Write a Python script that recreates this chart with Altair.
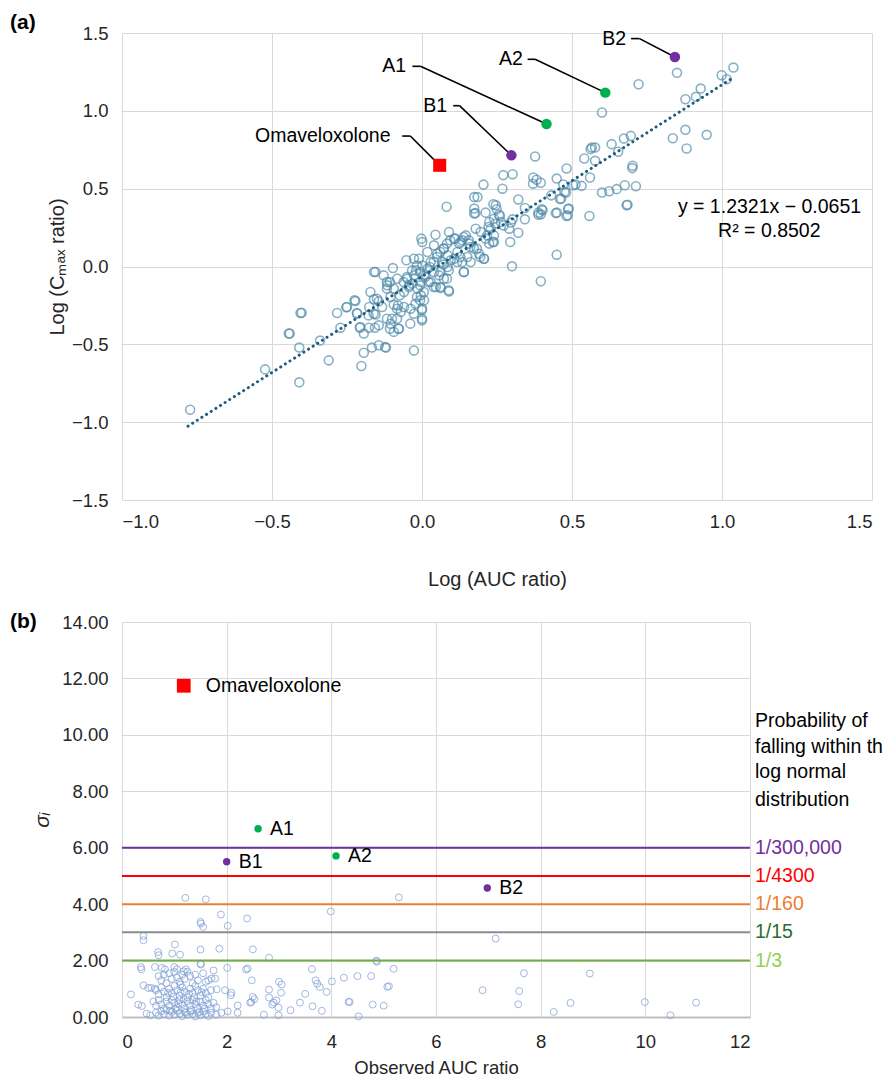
import altair as alt
import pandas as pd

FONT = "Liberation Sans"
TXT = "#262626"

# ---------------- panel (a) data ----------------
a_x = [-0.773, -0.523, -0.409, -0.409, -0.311, -0.441, -0.444, -0.401, -0.405, -0.34, -0.283, -0.252, -0.222,
       -0.216, -0.272, -0.207, -0.194, -0.177, -0.157, -0.202, -0.194, -0.167, -0.144, -0.12, -0.123, -0.027,
       -0.176, -0.16, -0.155, -0.144, -0.16, -0.155, -0.097, -0.052, -0.116, -0.107, -0.094, -0.105, -0.1,
       -0.107, -0.094, -0.077, -0.083, -0.071, -0.06, -0.08, -0.049, -0.043, -0.06, -0.027, -0.032, -0.038,
       0.0, 0.0, 0.007, -0.004, -0.015, -0.004, 0.007, 0.018, 0.001, -0.01, -0.002, 0.001, 0.018, 0.029, 0.04,
       0.029, 0.046, 0.062, 0.09, 0.073, 0.057, 0.085, 0.068, 0.051, 0.045, 0.04, 0.073, 0.085, 0.096, 0.09,
       0.107, 0.124, 0.118, 0.107, 0.14, 0.134, 0.151, 0.162, 0.146, 0.134, 0.157, 0.173, 0.19, 0.207, 0.179,
       0.196, 0.212, 0.229, 0.24, 0.224, 0.24, 0.174, 0.185, 0.174, 0.174, 0.178, 0.205, 0.268, 0.212, 0.246,
       0.257, 0.24, 0.224, 0.263, 0.296, 0.321, 0.343, 0.343, 0.302, 0.291, 0.321, 0.294, 0.3, 0.396, 0.388,
       0.402, 0.396, 0.449, 0.45, 0.486, 0.489, 0.464, 0.475, 0.431, 0.37, 0.396, 0.512, 0.082, -0.027, -0.02,
       -0.105, -0.133, -0.027,
       -0.25, -0.225, -0.217, -0.206, -0.161, -0.15, -0.117, -0.117, -0.094, -0.083, -0.074, -0.061, -0.05,
       -0.033, -0.017, -0.006, 0.011, 0.022, 0.026, 0.039, 0.05, 0.061, 0.072, 0.083, 0.094, 0.111, 0.128,
       0.139, 0.156, 0.161, 0.183, 0.194, 0.206, 0.217, 0.236, 0.222, 0.244, 0.272, 0.072, 0.089, 0.061, 0.083,
       0.061, 0.089, 0.139, 0.117, 0.128, 0.039, -0.006, 0.006, -0.017, -0.006, 0.0, 0.0, -0.022, -0.044,
       -0.083, -0.128, -0.172, -0.178, -0.144, -0.117, -0.078, -0.039,
       1.038, 0.999, 1.016, 0.929, 0.913, 0.878, 0.85, 0.722, 0.6, 0.878, 0.836, 0.882, 0.949, 0.696, 0.673,
       0.632, 0.654, 0.566, 0.577, 0.562, 0.577, 0.541, 0.702, 0.701, 0.56, 0.482, 0.449, 0.471, 0.504, 0.532,
       0.6, 0.624, 0.649, 0.676, 0.713, 0.682, 0.685, 0.558, 0.48, 0.46, 0.487, 0.482, 0.446, 0.399, 0.388,
       0.377, 0.371, 0.382, 0.302, 0.271, 0.238, 0.249, 0.26]
a_y = [-0.92, -0.661, -0.744, -0.521, -0.603, -0.431, -0.43, -0.297, -0.299, -0.476, -0.299, -0.262, -0.222,
       -0.303, -0.393, -0.393, -0.431, -0.393, -0.393, -0.639, -0.554, -0.521, -0.506, -0.521, -0.518, -0.539,
       -0.26, -0.211, -0.309, -0.224, -0.035, -0.035, -0.01, 0.04, -0.121, -0.1, -0.142, -0.196, -0.335,
       -0.4, -0.42, -0.4, -0.335, -0.292, -0.26, -0.25, -0.078, -0.121, -0.164, -0.057, -0.11, -0.271,
       -0.346, -0.28, -0.217, -0.185, -0.142, -0.1, -0.057, -0.014, 0.007, 0.05, 0.179, 0.157, 0.093, 0.029,
       -0.035, -0.1, -0.132, -0.138, -0.16, -0.078, -0.057, -0.003, 0.029, 0.082, 0.204, 0.136, 0.115, 0.072,
       0.04, 0.222, 0.179, 0.147, 0.093, 0.05, -0.035, 0.029, 0.061, 0.029, 0.2, 0.168, 0.147, 0.115, 0.082,
       0.05, 0.243, 0.222, 0.179, 0.243, 0.2, 0.147, 0.157, 0.446, 0.446, 0.372, 0.34, 0.343, 0.526, 0.5,
       0.346, 0.393, 0.333, 0.307, 0.286, 0.286, 0.282, 0.431, 0.376, 0.303, 0.303, 0.243, 0.217, 0.157,
       0.001, 0.335, 0.346, 0.361, -0.095, 0.076, 0.346, 0.329, 0.372, 0.436, 0.479, 0.457, 0.532, 0.538,
       0.526, 0.384, 0.05, -0.025, -0.368, -0.26, -0.303,
       -0.26, -0.217, -0.299, -0.389, -0.303, -0.207, -0.1, -0.142, -0.245, -0.271, -0.185, -0.1, -0.067,
       -0.025, 0.007, -0.035, -0.067, -0.1, -0.003, 0.029, 0.061, 0.093, 0.115, 0.147, 0.168, 0.179, 0.157,
       0.19, 0.168, 0.125, 0.115, 0.061, 0.05, 0.2, 0.157, 0.254, 0.275, 0.264, 0.012, -0.025, -0.035, -0.078,
       -0.132, -0.153, -0.035, 0.029, 0.061, -0.132, -0.121, -0.164, -0.196, -0.217, -0.335, -0.271, -0.239,
       -0.132, -0.078, -0.057, -0.164, -0.314, -0.378, -0.335, -0.4, -0.367,
       1.278, 1.229, 1.203, 1.143, 1.09, 1.075, 1.244, 1.171, 0.989, 0.878, 0.824, 0.758, 0.846, 0.839, 0.822,
       0.786, 0.737, 0.764, 0.764, 0.754, 0.679, 0.694, 0.647, 0.632, 0.572, 0.63, 0.565, 0.527, 0.522, 0.518,
       0.475, 0.484, 0.497, 0.522, 0.516, 0.394, 0.397, 0.325, 0.475, 0.433, 0.368, 0.325, 0.343, 0.368, 0.332,
       0.707, 0.572, 0.557, 0.593, 0.587, 0.4, 0.368, 0.325]

trend_x = [-0.78, 1.03]
trend_y = [-1.026, 1.204]   # y = 1.2321x - 0.0651

sp_names = ["Omaveloxolone", "B1", "A1", "A2", "B2"]
sp_group = ["O", "B", "A", "A", "B"]
sp_x = [0.059, 0.298, 0.415, 0.611, 0.843]
sp_y = [0.650, 0.714, 0.915, 1.117, 1.346]
lab_x = [-0.105, 0.084, -0.053, 0.336, 0.680]
lab_y = [0.838, 1.033, 1.286, 1.331, 1.464]
lead_x0 = [-0.066, 0.104, -0.032, 0.352, 0.697]
lead_x1 = [-0.039, 0.125, -0.005, 0.377, 0.725]

eq_text = ["y = 1.2321x \u2212 0.0651", "R\u00b2 = 0.8502"]
eq_x = [0.853, 0.987]
eq_y = [0.382, 0.228]

# ---------------- panel (b) data ----------------
b_x = [1.21, 1.6, 1.89, 2.39, 1.5, 1.51, 1.55, 2.02, 3.99, 5.29,
       0.41, 0.41, 1.01, 0.69, 0.7, 0.96, 1.11, 1.5, 1.86, 2.5, 2.81,
       1.5, 1.51, 0.36, 0.37, 0.63, 0.76, 0.82, 1.0, 1.22, 1.75, 2.01, 2.37, 2.4, 3.63, 4.86, 4.87, 5.19,
       4.24, 4.5, 4.76, 5.07, 5.1, 4.33, 4.35, 4.79, 5.0, 4.52, 3.7, 3.73, 3.78, 4.01, 3.91, 3.5, 3.4, 3.64,
       3.82, 3.22, 3.0, 3.05, 3.04, 2.95, 2.9, 2.87, 2.81, 2.81, 2.99, 2.71, 2.99, 2.48, 2.5, 2.53, 2.47, 2.45,
       2.21, 2.21, 2.02, 2.09, 2.08, 1.97, 1.81, 1.78, 1.71, 1.65, 0.17, 0.31, 0.38, 0.41, 0.5, 0.56, 0.63,
       0.47, 0.54,
       0.7, 0.75, 0.8, 0.85, 0.9, 0.95, 1.0, 1.05, 1.1, 1.15, 1.2, 1.25, 1.3, 1.35, 1.4, 1.45, 1.55, 1.6,
       0.65, 0.7, 0.75, 0.8, 0.85, 0.9, 0.95, 1.0, 1.05, 1.1, 1.15, 1.2, 1.25, 1.3, 1.35, 1.4, 1.45, 1.5, 1.55,
       1.6, 1.65, 1.7,
       0.6, 0.65, 0.7, 0.75, 0.8, 0.85, 0.9, 0.95, 1.0, 1.05, 1.1, 1.15, 1.2, 1.25, 1.3, 1.35, 1.4, 1.45, 1.5,
       1.55, 1.6, 1.65, 1.7, 1.75, 1.8,
       0.65, 0.7, 0.75, 0.8, 0.85, 0.9, 0.95, 1.0, 1.05, 1.1, 1.15, 1.2, 1.25, 1.3, 1.35, 1.4, 1.45, 1.5, 1.55,
       1.6, 1.65, 1.7, 1.8, 1.9,
       0.98, 1.02, 1.08, 1.12, 1.18, 1.22, 1.28, 1.32, 1.38, 1.42, 1.48, 1.52, 1.58, 0.88, 0.92, 1.12, 1.05, 1.18,
       7.14, 7.68, 8.94, 6.89, 7.59, 7.57, 8.25, 8.57, 9.99, 10.48, 10.97]
b_y = [4.22, 4.17, 3.63, 3.49, 3.37, 3.31, 3.19, 3.23, 3.74, 4.24,
       2.87, 2.72, 2.57, 2.3, 2.19, 2.25, 2.21, 2.39, 2.42, 2.4, 2.1,
       1.89, 1.86, 1.77, 1.69, 1.77, 1.74, 1.69, 1.77, 1.69, 1.65, 1.74, 1.68, 1.72, 1.7, 2.0, 1.96, 1.71,
       1.39, 1.45, 1.45, 1.07, 1.09, 0.54, 0.53, 0.44, 0.4, 0.02, 1.3, 1.18, 1.06, 1.26, 0.89, 0.82, 0.51, 0.38,
       0.22, 0.24, 1.25, 1.15, 0.86, 0.59, 0.51, 0.44, 0.97, 0.69, 0.33, 0.08, 0.06, 1.3, 0.71, 0.63, 0.53, 0.51,
       0.41, 0.15, 0.2, 0.86, 0.77, 0.95, 0.98, 1.36, 1.36, 1.3, 0.8, 0.44, 0.39, 1.12, 1.03, 1.03, 1.0,
       0.12, 0.06,
       1.45, 1.3, 1.5, 1.2, 1.55, 1.35, 1.6, 1.4, 1.25, 1.5, 1.35, 1.6, 1.45, 1.2, 1.5, 1.3, 1.55, 1.25,
       0.95, 0.8, 1.05, 0.9, 0.7, 1.0, 0.85, 1.1, 0.95, 0.75, 1.05, 0.9, 0.7, 1.0, 0.85, 1.1, 0.95, 0.75, 1.0,
       0.85, 0.7, 0.95,
       0.55, 0.4, 0.6, 0.45, 0.3, 0.55, 0.4, 0.6, 0.5, 0.35, 0.6, 0.45, 0.3, 0.55, 0.4, 0.6, 0.45, 0.3, 0.55,
       0.4, 0.6, 0.45, 0.3, 0.5, 0.35,
       0.15, 0.05, 0.2, 0.1, 0.25, 0.05, 0.18, 0.08, 0.22, 0.12, 0.03, 0.18, 0.08, 0.2, 0.1, 0.02, 0.15, 0.06,
       0.2, 0.1, 0.03, 0.15, 0.08, 0.15,
       0.72, 0.28, 0.48, 0.88, 0.62, 0.15, 0.82, 0.25, 0.7, 0.55, 0.18, 0.88, 0.3, 0.85, 0.22, 1.15, 1.7, 1.62,
       2.78, 1.55, 1.54, 0.95, 0.92, 0.45, 0.18, 0.5, 0.53, 0.06, 0.51]

bsp_names = ["Omaveloxolone", "A1", "B1", "A2", "B2"]
bsp_group = ["O", "A", "B", "A", "B"]
bsp_x = [1.18, 2.6, 2.0, 4.09, 6.98]
bsp_y = [11.74, 6.67, 5.5, 5.71, 4.57]

thr_y = [6, 5, 4, 3, 2]
thr_labels = ["1/300,000", "1/4300", "1/160", "1/15", "1/3"]
thr_line_colors = ["#7030A0", "#FF0000", "#ED7D31", "#8C8C8C", "#70AD47"]
thr_text_colors = ["#7030A0", "#FF0000", "#ED7D31", "#2E6B2E", "#92D050"]

prob_lines = ["Probability of", "falling within the", "log normal", "distribution"]
prob_y = [10.49, 9.57, 8.68, 7.69]

grp_domain = ["A", "B", "O"]
grp_colors = ["#00B050", "#7030A0", "#FF0000"]

# ---------------- panel (a) ----------------
WA, HA = 750, 467
xs_a = alt.Scale(domain=[-1.0, 1.5], nice=False, zero=False)
ys_a = alt.Scale(domain=[-1.5, 1.5], nice=False, zero=False)
ax_xa = alt.Axis(values=[-1.0, -0.5, 0.0, 0.5, 1.0, 1.5], format=".1f", title="Log (AUC ratio)",
                 domain=False, ticks=False, tickSize=0, labelPadding=12, titlePadding=39,
                 labelFontSize=18.5, titleFontSize=20, titleFontWeight="normal")
ax_ya = alt.Axis(values=[-1.5, -1.0, -0.5, 0.0, 0.5, 1.0, 1.5], format=".1f",
                 title="Log (C\u2098\u2090\u2093 ratio)",
                 domain=False, ticks=False, tickSize=0, labelPadding=14,
                 labelFontSize=18.5, titleFontSize=20, titleFontWeight="normal",
                 titleX=-65, titleY=HA / 2, titleAngle=270, titleBaseline="middle")


def XA(f):
    return alt.X(f, type="quantitative", scale=xs_a, axis=ax_xa)


def YA(f):
    return alt.Y(f, type="quantitative", scale=ys_a, axis=ax_ya)


df_a = pd.DataFrame({"x": a_x, "y": a_y})
pts_a = alt.Chart(df_a).mark_point(shape="circle", filled=False, size=80, strokeWidth=1.6,
                                   color="#4a88a8", opacity=0.65).encode(x=XA("x"), y=YA("y"))

trend = alt.Chart(pd.DataFrame({"x": trend_x, "y": trend_y})).mark_line(
    color="#1d5d7e", strokeWidth=3, strokeDash=[0.1, 5.4], strokeCap="round").encode(x=XA("x"), y=YA("y"))

seg_rows = []
for i in range(len(sp_names)):
    seg_rows.append({"x": lead_x0[i], "y": lab_y[i], "x2": lead_x1[i], "y2": lab_y[i]})
    seg_rows.append({"x": lead_x1[i], "y": lab_y[i], "x2": sp_x[i], "y2": sp_y[i]})
leads = alt.Chart(pd.DataFrame(seg_rows)).mark_rule(color="black", strokeWidth=1.6).encode(
    x=XA("x"), y=YA("y"), x2="x2:Q", y2="y2:Q")

df_sp = pd.DataFrame({"name": sp_names, "g": sp_group, "x": sp_x, "y": sp_y, "lx": lab_x, "ly": lab_y})
color_g = alt.Color("g:N", scale=alt.Scale(domain=grp_domain, range=grp_colors), legend=None)
sp_dots = alt.Chart(df_sp).transform_filter(alt.datum.g != "O").mark_point(
    shape="circle", filled=True, size=110, opacity=1).encode(x=XA("x"), y=YA("y"), color=color_g)
sp_sq = alt.Chart(df_sp).transform_filter(alt.datum.g == "O").mark_point(
    shape="square", filled=True, size=170, opacity=1).encode(x=XA("x"), y=YA("y"), color=color_g)
sp_lab = alt.Chart(df_sp).mark_text(align="right", baseline="middle", fontSize=19.5, color="black").encode(
    x=XA("lx"), y=YA("ly"), text="name:N")

eq = alt.Chart(pd.DataFrame({"t": eq_text, "x": eq_x, "y": eq_y})).mark_text(
    align="left", baseline="middle", fontSize=19.5, color="black").encode(x=XA("x"), y=YA("y"), text="t:N")

tag_a = alt.Chart(pd.DataFrame({"t": ["(a)"]})).mark_text(
    align="left", baseline="middle", fontSize=21, fontWeight="bold", color="black").encode(
    x=alt.value(-112), y=alt.value(-10), text="t:N")

panel_a = alt.layer(pts_a, trend, leads, sp_dots, sp_sq, sp_lab, eq, tag_a).properties(width=WA, height=HA)

# ---------------- panel (b) ----------------
WB, HB = 628, 395
xs_b = alt.Scale(domain=[0, 12], nice=False, zero=False)
ys_b = alt.Scale(domain=[0, 14], nice=False, zero=False)
ax_xb = alt.Axis(values=[0, 2, 4, 6, 8, 10, 12], format="d", title="Observed AUC ratio",
                 domain=True, domainColor="#BFBFBF", domainWidth=2, ticks=False, tickSize=0,
                 labelPadding=15, titlePadding=8, labelFontSize=18.5, titleFontSize=18.5,
                 titleFontWeight="normal")
ax_yb = alt.Axis(values=[0, 2, 4, 6, 8, 10, 12, 14], format=".2f", title="\u03c3\u1d62",
                 domain=False, ticks=False, tickSize=0, labelPadding=14,
                 labelFontSize=18.5, titleFontSize=21, titleFontWeight="normal", titleFontStyle="italic",
                 titleX=-80, titleY=HB / 2, titleAngle=270, titleBaseline="middle")


def XB(f):
    return alt.X(f, type="quantitative", scale=xs_b, axis=ax_xb)


def YB(f):
    return alt.Y(f, type="quantitative", scale=ys_b, axis=ax_yb)


df_b = pd.DataFrame({"x": b_x, "y": b_y})
pts_b = alt.Chart(df_b).mark_point(shape="circle", filled=False, size=48, strokeWidth=1,
                                   color="#7f9fd6", opacity=0.75).encode(x=XB("x"), y=YB("y"))

df_thr = pd.DataFrame({"y": thr_y, "lab": thr_labels, "lab2": thr_labels, "x": [12] * len(thr_y)})
thr_rules = alt.Chart(df_thr).mark_rule(strokeWidth=2).encode(
    y=YB("y"),
    color=alt.Color("lab:N", scale=alt.Scale(domain=thr_labels, range=thr_line_colors), legend=None))
thr_text = alt.Chart(df_thr).mark_text(align="left", baseline="middle", dx=5, fontSize=19.5).encode(
    x=XB("x"), y=YB("y"), text="lab2:N",
    color=alt.Color("lab2:N", scale=alt.Scale(domain=thr_labels, range=thr_text_colors), legend=None))

df_prob = pd.DataFrame({"t": prob_lines, "y": prob_y, "x": [12] * len(prob_y)})
prob = alt.Chart(df_prob).mark_text(align="left", baseline="middle", dx=5, fontSize=19.5,
                                    color="black", limit=132, ellipsis="\u200b").encode(
    x=XB("x"), y=YB("y"), text="t:N")

df_bsp = pd.DataFrame({"name": bsp_names, "g": bsp_group, "x": bsp_x, "y": bsp_y})
bsp_dots = alt.Chart(df_bsp).transform_filter(alt.datum.g != "O").mark_point(
    shape="circle", filled=True, size=55, opacity=1).encode(x=XB("x"), y=YB("y"), color=color_g)
bsp_sq = alt.Chart(df_bsp).transform_filter(alt.datum.g == "O").mark_point(
    shape="square", filled=True, size=190, opacity=1).encode(x=XB("x"), y=YB("y"), color=color_g)
bsp_lab = alt.Chart(df_bsp).transform_filter(alt.datum.g != "O").mark_text(
    align="left", baseline="middle", dx=12, fontSize=19.5, color="black").encode(
    x=XB("x"), y=YB("y"), text="name:N")
bsp_lab_o = alt.Chart(df_bsp).transform_filter(alt.datum.g == "O").mark_text(
    align="left", baseline="middle", dx=22, fontSize=19.5, color="black").encode(
    x=XB("x"), y=YB("y"), text="name:N")

tag_b = alt.Chart(pd.DataFrame({"t": ["(b)"]})).mark_text(
    align="left", baseline="middle", fontSize=21, fontWeight="bold", color="black").encode(
    x=alt.value(-112), y=alt.value(0), text="t:N")

panel_b = alt.layer(pts_b, thr_rules, thr_text, prob, bsp_dots, bsp_sq, bsp_lab, bsp_lab_o, tag_b).resolve_scale(
    color="independent").properties(width=WB, height=HB)

chart = alt.vconcat(panel_a, panel_b, spacing=21).properties(
    padding={"left": 10, "top": 12, "right": 0, "bottom": 0}
).configure_axis(
    labelFont=FONT, titleFont=FONT, labelColor=TXT, titleColor=TXT,
    gridColor="#D9D9D9", gridWidth=1
).configure_text(font=FONT).configure_view(strokeWidth=0)

chart.save("out.html", embed_options={"renderer": "svg", "actions": False})
